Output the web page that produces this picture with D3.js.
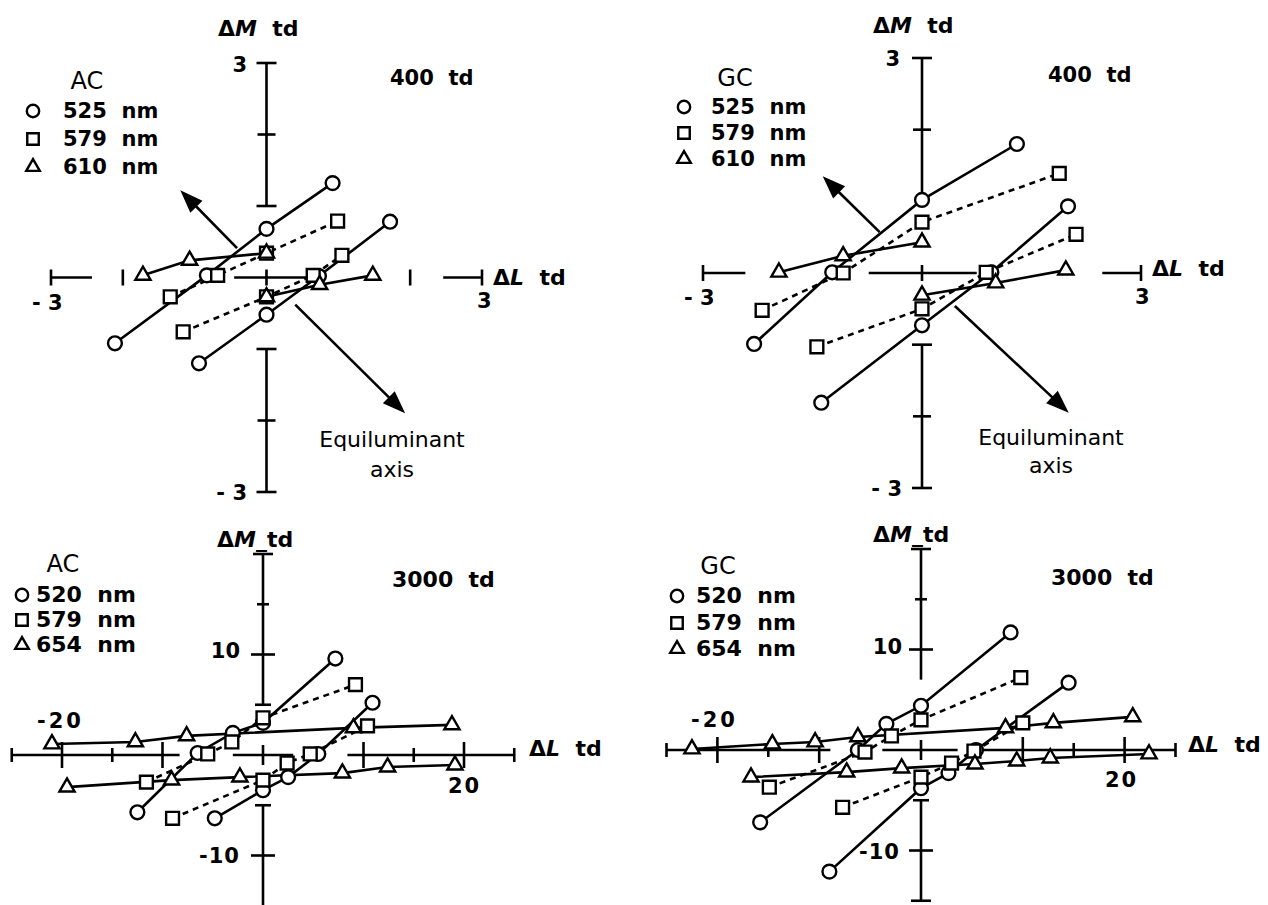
<!DOCTYPE html>
<html>
<head>
<meta charset="utf-8">
<script src="https://cdn.jsdelivr.net/npm/d3@7/dist/d3.min.js"></script>
<style>
	body { margin: 0; background: #fff; }
	text { font-family: "DejaVu Sans", sans-serif; fill: #000; white-space: pre; }
</style>
</head>
<body>
<svg id="fig" width="1268" height="905"></svg>
<script>
// values are [dL, dM] in td

// AC cell, 400 td
var acDimCircle = [
	[[-2.11, -0.92], [-0.83, 0.03], [0, 0.68], [0.92, 1.32]],
	[[-0.94, -1.20], [0, -0.52], [0.73, 0.02], [1.72, 0.78]]
];
var acDimSquare = [
	[[-1.34, -0.27], [-0.68, 0.03], [0, 0.34], [0.99, 0.79]],
	[[-1.16, -0.76], [0, -0.27], [0.65, 0.03], [1.05, 0.31]]
];
var acDimTriangle = [
	[[-1.72, 0.03], [-1.07, 0.24], [0, 0.34]],
	[[0, -0.27], [0.74, -0.10], [1.48, 0.03]]
];

// GC cell, 400 td
var gcDimCircle = [
	[[-2.30, -0.99], [-1.23, 0.01], [0, 1.02], [1.30, 1.80]],
	[[-1.38, -1.81], [0, -0.73], [0.95, 0.01], [2.00, 0.93]]
];
var gcDimSquare = [
	[[-2.19, -0.52], [-1.08, 0], [0, 0.71], [1.88, 1.39]],
	[[-1.44, -1.03], [0, -0.50], [0.88, 0.01], [2.11, 0.54]]
];
var gcDimTriangle = [
	[[-1.96, 0.01], [-1.08, 0.24], [0, 0.43]],
	[[0, -0.31], [1.01, -0.14], [1.97, 0.04]]
];

// AC cell, 3000 td
var acBrightCircle = [
	[[-12.5, -5.7], [-6.5, 0.2], [-3.0, 2.2], [0, 3.2], [7.2, 9.6]],
	[[-4.8, -6.3], [0, -3.5], [2.5, -2.2], [5.5, 0.1], [10.9, 5.2]]
];
var acBrightSquare = [
	[[-11.6, -2.7], [-5.5, 0.1], [-3.1, 1.3], [0, 3.7], [9.2, 7.0]],
	[[-9.0, -6.3], [0, -2.5], [2.4, -0.8], [4.7, 0.1], [10.4, 2.9]]
];
var acBrightTriangle = [
	[[-21.0, 1.1], [-12.7, 1.3], [-7.6, 1.9], [9.0, 2.7], [18.8, 3.0]],
	[[-19.5, -3.2], [-9.1, -2.5], [-2.3, -2.2], [7.9, -1.8], [12.4, -1.2], [19.1, -1.0]]
];

// GC cell, 3000 td
var gcBrightCircle = [
	[[-15.8, -7.2], [-6.2, 0], [-3.4, 2.6], [0, 4.4], [8.8, 11.7]],
	[[-9.0, -12.1], [0, -3.8], [2.7, -2.3], [5.4, 0], [14.5, 6.7]]
];
var gcBrightSquare = [
	[[-14.9, -3.7], [-5.5, -0.2], [-2.9, 1.4], [0, 3.0], [9.8, 7.2]],
	[[-7.7, -5.7], [0, -2.7], [3.0, -1.3], [5.2, -0.1], [10.0, 2.7]]
];
var gcBrightTriangle = [
	[[-22.5, 0.1], [-14.6, 0.6], [-10.4, 0.8], [-6.2, 1.3], [8.3, 2.2], [13.0, 2.7], [20.8, 3.3]],
	[[-16.7, -2.7], [-7.3, -2.2], [-1.9, -1.8], [5.3, -1.4], [9.4, -1.1], [12.7, -0.8], [22.4, -0.4]]
];

// equiluminant axis arrows (tail, tip)
var acDimArrows = [[[-0.41, 0.41], [-1.20, 1.22]], [[0.40, -0.38], [1.93, -1.90]]];
var gcDimArrows = [[[-0.58, 0.57], [-1.36, 1.35]], [[0.45, -0.46], [2.01, -1.95]]];

var dimWaves = ["525", "579", "610"];
var brightWaves = ["520", "579", "654"];
var dimTickText = ["3", "- 3"];
var brightTickText = ["10", "-10", "-20", "20"];
var cells = ["AC", "GC"];
var levels = ["400  td", "3000  td"];

var svg = d3.select("#fig");
var symTypes = [d3.symbolCircle, d3.symbolSquare, d3.symbolTriangle];
var symSizes = [150, 165, 100];
var ink = 2.6;

function label(g, x, y, parts, opt) {
	opt = opt || {};
	var t = g.append("text")
		.attr("x", x)
		.attr("y", y)
		.attr("text-anchor", opt.anchor || "start")
		.style("font-size", (opt.size || 21) + "px")
		.style("font-weight", opt.normal ? "normal" : "bold");
	if (opt.spacing) t.style("letter-spacing", opt.spacing + "px");
	parts.forEach(function(p) {
		var s = t.append("tspan").text(typeof p === "string" ? p : p[0]);
		if (typeof p !== "string") s.style("font-style", "italic");
	});
}

function seg(g, x1, y1, x2, y2) {
	g.append("line")
		.attr("x1", x1).attr("y1", y1)
		.attr("x2", x2).attr("y2", y2)
		.attr("stroke", "#000")
		.attr("stroke-width", ink);
}

function drawAxes(g, p) {
	var y0 = p.y(0), x0 = p.x(0);
	p.hSegs.forEach(function(s) { seg(g, p.x(s[0]), y0, p.x(s[1]), y0); });
	p.hTicks.forEach(function(t) { seg(g, p.x(t[0]), y0 - t[1], p.x(t[0]), y0 + t[1]); });
	p.vSegs.forEach(function(s) { seg(g, x0, p.y(s[0]), x0, p.y(s[1])); });
	p.vTicks.forEach(function(t) { seg(g, x0 - t[1], p.y(t[0]), x0 + t[1], p.y(t[0])); });
}

function drawArrows(g, p) {
	(p.arrows || []).forEach(function(a) {
		var tx = p.x(a[0][0]), ty = p.y(a[0][1]);
		var hx = p.x(a[1][0]), hy = p.y(a[1][1]);
		var len = Math.hypot(hx - tx, hy - ty);
		var ux = (hx - tx) / len, uy = (hy - ty) / len;
		var bx = hx - ux * 23, by = hy - uy * 23;
		seg(g, tx, ty, bx + ux * 2, by + uy * 2);
		g.append("path")
			.attr("d", "M" + hx + "," + hy + "L" + (bx - uy * 8.5) + "," + (by + ux * 8.5) +
				"L" + (bx + uy * 8.5) + "," + (by - ux * 8.5) + "Z")
			.attr("fill", "#000");
	});
}

function drawPanel(p) {
	var g = svg.append("g");
	drawAxes(g, p);
	p.labels.forEach(function(l) { label(g, l[0], l[1], l[2], l[3]); });

	// legend
	label(g, p.legend.cellX, p.legend.cellY, [p.cell], {anchor: "middle", size: 24, normal: true});
	p.waves.forEach(function(w, i) {
		var by = p.legend.rows[i];
		g.append("path")
			.attr("d", d3.symbol().type(symTypes[i]).size(symSizes[i] * 0.8)())
			.attr("transform", "translate(" + p.legend.symX + "," + (by - 7) + ")")
			.attr("fill", "#fff")
			.attr("stroke", "#000")
			.attr("stroke-width", 2.4);
		label(g, p.legend.textX, by, [w + "  nm"], {size: p.legend.size});
	});

	drawArrows(g, p);

	var line = d3.line().x(function(d) { return p.x(d[0]); }).y(function(d) { return p.y(d[1]); });
	p.series.forEach(function(s, i) {
		s.forEach(function(pts) {
			g.append("path")
				.attr("d", line(pts))
				.attr("fill", "none")
				.attr("stroke", "#000")
				.attr("stroke-width", ink)
				.attr("stroke-dasharray", i == 1 ? "6,5" : null);
		});
	});
	p.series.forEach(function(s, i) {
		var sym = d3.symbol().type(symTypes[i]).size(symSizes[i]);
		s.forEach(function(pts) {
			pts.forEach(function(d) {
				g.append("path")
					.attr("d", sym())
					.attr("transform", "translate(" + p.x(d[0]) + "," + p.y(d[1]) + ")")
					.attr("fill", "#fff")
					.attr("stroke", "#000")
					.attr("stroke-width", 2.4);
			});
		});
	});
}

var dimV = [[3, 10], [2, 9], [-1, 10], [-2, 9], [-3, 10]];
var brightH = [[-25, 7], [-20, 13], [-15, 7], [-10, 13], [0, 10], [10, 13], [15, 7], [20, 13], [25, 7]];

drawPanel({
	x: d3.scaleLinear().domain([-3, 3]).range([51, 482]),
	y: d3.scaleLinear().domain([-3, 3]).range([492, 63]),
	hSegs: [[-3, -2.43], [-0.45, 0.6], [2.46, 3]],
	hTicks: [[-3, 8], [-2, 8], [0, 8], [2, 8], [3, 8]],
	vSegs: [[1, 3], [-3, -1]],
	vTicks: dimV.concat([[1, 10]]),
	arrows: acDimArrows,
	series: [acDimCircle, acDimSquare, acDimTriangle],
	cell: cells[0],
	waves: dimWaves,
	legend: {cellX: 87, cellY: 89, symX: 33, textX: 63, rows: [118, 146, 174], size: 21},
	labels: [
		[218, 36, ["Δ", ["M"], "  td"], {size: 22}],
		[247, 72, [dimTickText[0]], {anchor: "end"}],
		[247, 500, [dimTickText[1]], {anchor: "end"}],
		[32, 310, [dimTickText[1]]],
		[477, 308, [dimTickText[0]]],
		[493, 285, ["Δ", ["L"], "  td"], {size: 22}],
		[390, 85, [levels[0]]],
		[392, 447, ["Equiluminant"], {anchor: "middle", size: 22, normal: true}],
		[392, 477, ["axis"], {anchor: "middle", size: 22, normal: true}]
	]
});

drawPanel({
	x: d3.scaleLinear().domain([-3, 3]).range([703, 1141]),
	y: d3.scaleLinear().domain([-3, 3]).range([488, 58]),
	hSegs: [[-3, -2.42], [-0.73, 0.75], [2.47, 3]],
	hTicks: [[-3, 8], [0, 8], [3, 8]],
	vSegs: [[1, 3], [-3, -1]],
	vTicks: dimV,
	arrows: gcDimArrows,
	series: [gcDimCircle, gcDimSquare, gcDimTriangle],
	cell: cells[1],
	waves: dimWaves,
	legend: {cellX: 735, cellY: 86, symX: 684, textX: 711, rows: [114, 140, 166], size: 21},
	labels: [
		[873, 33, ["Δ", ["M"], "  td"], {size: 22}],
		[900, 66, [dimTickText[0]], {anchor: "end"}],
		[902, 496, [dimTickText[1]], {anchor: "end"}],
		[684, 305, [dimTickText[1]]],
		[1135, 304, [dimTickText[0]]],
		[1152, 276, ["Δ", ["L"], "  td"], {size: 22}],
		[1048, 82, [levels[0]]],
		[1051, 445, ["Equiluminant"], {anchor: "middle", size: 22, normal: true}],
		[1051, 473, ["axis"], {anchor: "middle", size: 22, normal: true}]
	]
});

drawPanel({
	x: d3.scaleLinear().domain([-25, 25]).range([11.75, 514.25]),
	y: d3.scaleLinear().domain([-15, 20]).range([905.75, 554]),
	hSegs: [[-25, -8.3], [-3, 3], [8.4, 25]],
	hTicks: brightH,
	vSegs: [[5, 20], [-15, -5]],
	vTicks: [[20, 10], [15, 6], [10, 12], [5, 8], [-5, 8], [-10, 12]],
	series: [acBrightCircle, acBrightSquare, acBrightTriangle],
	cell: cells[0],
	waves: brightWaves,
	legend: {cellX: 63, cellY: 572, symX: 22, textX: 36, rows: [602, 627, 652], size: 22},
	labels: [
		[217, 547, ["Δ", ["M"], "_td"], {size: 22}],
		[240, 658, [brightTickText[0]], {anchor: "end"}],
		[240, 863, [brightTickText[1]], {anchor: "end", spacing: 1}],
		[37, 728, [brightTickText[2]], {spacing: 3}],
		[448, 793, [brightTickText[3]], {spacing: 2}],
		[529, 756, ["Δ", ["L"], "  td"], {size: 22}],
		[392, 587, [levels[1]], {size: 22}]
	]
});

drawPanel({
	x: d3.scaleLinear().domain([-25, 25]).range([666.5, 1175.5]),
	y: d3.scaleLinear().domain([-15, 20]).range([900.75, 549]),
	hSegs: [[-25, -8.9], [-3.8, 3.6], [6, 25]],
	hTicks: brightH,
	vSegs: [[7, 20], [-15, -5]],
	vTicks: [[20, 10], [15, 6], [10, 12], [-5, 8], [-10, 12], [-15, 10]],
	series: [gcBrightCircle, gcBrightSquare, gcBrightTriangle],
	cell: cells[1],
	waves: brightWaves,
	legend: {cellX: 718, cellY: 574, symX: 677, textX: 696, rows: [603, 630, 656], size: 22},
	labels: [
		[873, 542, ["Δ", ["M"], "_td"], {size: 22}],
		[902, 654, [brightTickText[0]], {anchor: "end"}],
		[900, 859, [brightTickText[1]], {anchor: "end", spacing: 1}],
		[691, 727, [brightTickText[2]], {spacing: 3}],
		[1105, 787, [brightTickText[3]], {spacing: 2}],
		[1188, 752, ["Δ", ["L"], "  td"], {size: 22}],
		[1051, 585, [levels[1]], {size: 22}]
	]
});
</script>
</body>
</html>
